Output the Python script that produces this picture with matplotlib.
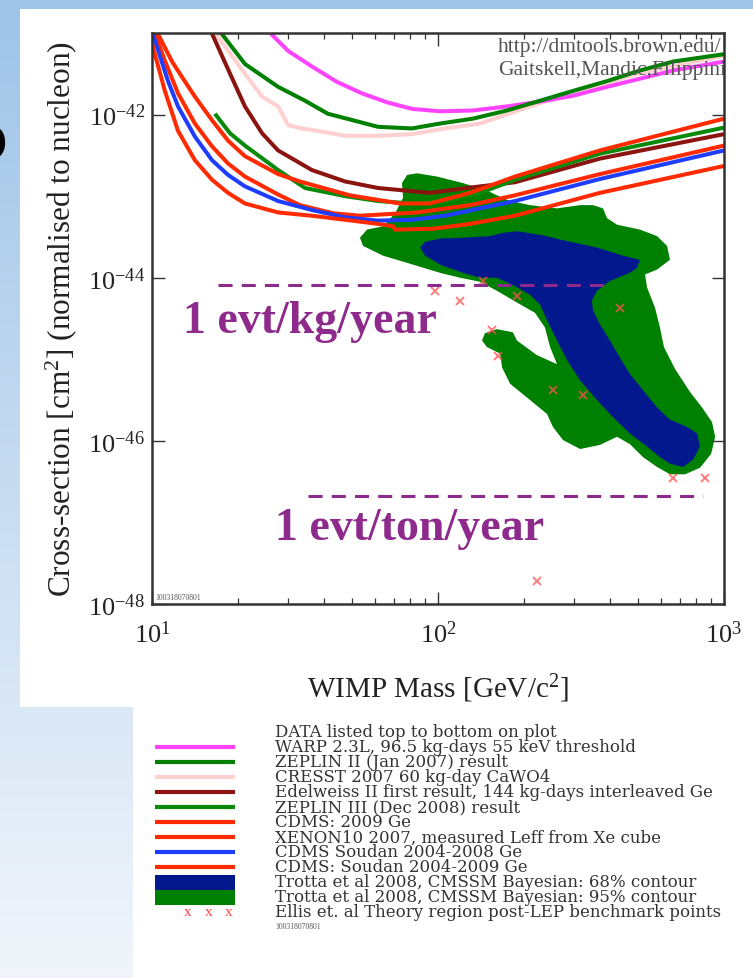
import numpy as np
import matplotlib
matplotlib.use('Agg')
import matplotlib.pyplot as plt
from matplotlib.patches import Rectangle
from matplotlib.colors import LinearSegmentedColormap
from matplotlib.ticker import LogLocator, NullLocator, NullFormatter

plt.rcParams['font.family'] = ['Liberation Serif', 'DejaVu Serif']
plt.rcParams['mathtext.fontset'] = 'custom'
plt.rcParams['mathtext.rm'] = 'Liberation Serif'
plt.rcParams['mathtext.it'] = 'Liberation Serif:italic'
plt.rcParams['mathtext.bf'] = 'Liberation Serif:bold'

# limit curves: log10(mass / GeV), log10(sigma / cm^2)
warp_lm = [1.405, 1.476, 1.559, 1.647, 1.734, 1.822, 1.909, 2.007, 2.122, 2.241, 2.357, 2.472, 2.591, 2.706, 2.822, 3.0]
warp_ls = [-40.97, -41.22, -41.41, -41.60, -41.74, -41.85, -41.93, -41.96, -41.95, -41.90, -41.84, -41.77, -41.66, -41.56, -41.46, -41.35]

zep2_lm = [1.235, 1.325, 1.441, 1.535, 1.615, 1.692, 1.790, 1.909, 2.007, 2.122, 2.241, 2.357, 2.472, 2.591, 2.706, 2.822, 3.0]
zep2_ls = [-40.97, -41.38, -41.66, -41.83, -41.99, -42.06, -42.15, -42.17, -42.11, -42.05, -41.95, -41.83, -41.71, -41.59, -41.46, -41.35, -41.26]

cresst_lm = [1.215, 1.325, 1.385, 1.441, 1.476, 1.524, 1.580, 1.675, 1.790, 1.909, 2.024, 2.147, 2.357, 2.706, 3.0]
cresst_ls = [-40.97, -41.50, -41.78, -41.90, -42.13, -42.17, -42.20, -42.26, -42.26, -42.24, -42.17, -42.11, -41.86, -41.49, -41.28]

edel_lm = [1.205, 1.273, 1.325, 1.385, 1.441, 1.559, 1.675, 1.790, 1.972, 2.101, 2.269, 2.566, 3.0]
edel_ls = [-40.97, -41.50, -41.90, -42.23, -42.44, -42.68, -42.82, -42.90, -42.96, -42.90, -42.83, -42.54, -42.24]

zep3_lm = [1.220, 1.273, 1.325, 1.441, 1.535, 1.675, 1.790, 1.909, 2.024, 2.147, 2.269, 2.566, 3.0]
zep3_ls = [-41.99, -42.23, -42.38, -42.68, -42.90, -43.00, -43.06, -43.09, -43.06, -42.96, -42.80, -42.48, -42.16]

cdms09_lm = [1.012, 1.070, 1.105, 1.150, 1.210, 1.266, 1.325, 1.441, 1.517, 1.692, 1.867, 1.972, 2.112, 2.269, 2.566, 3.0]
cdms09_ls = [-40.95, -41.35, -41.54, -41.78, -42.07, -42.32, -42.51, -42.73, -42.82, -42.99, -43.09, -43.09, -42.96, -42.76, -42.44, -42.05]

xenon_lm = [1.005, 1.045, 1.091, 1.150, 1.210, 1.266, 1.325, 1.441, 1.517, 1.633, 1.727, 1.927, 2.112, 2.269, 2.566, 3.0]
xenon_ls = [-40.95, -41.34, -41.74, -42.11, -42.39, -42.60, -42.76, -42.98, -43.11, -43.21, -43.24, -43.20, -43.11, -42.99, -42.73, -42.38]

soudan08_lm = [1.0, 1.056, 1.091, 1.150, 1.210, 1.266, 1.325, 1.441, 1.559, 1.675, 1.790, 1.909, 2.024, 2.269, 2.566, 3.0]
soudan08_ls = [-40.98, -41.59, -41.90, -42.27, -42.56, -42.74, -42.88, -43.06, -43.17, -43.26, -43.30, -43.29, -43.24, -43.06, -42.79, -42.44]

soudan09_lm = [1.0, 1.045, 1.091, 1.150, 1.210, 1.266, 1.325, 1.441, 1.559, 1.675, 1.790, 1.843, 1.850, 1.983, 2.112, 2.269, 2.566, 3.0]
soudan09_ls = [-41.13, -41.71, -42.20, -42.56, -42.80, -42.96, -43.09, -43.20, -43.24, -43.29, -43.34, -43.37, -43.41, -43.40, -43.34, -43.24, -42.96, -42.63]

# Trotta et al CMSSM regions (outline), same log units
c95_lm = [1.874, 1.892, 1.927, 1.997, 2.087, 2.171, 2.206, 2.252, 2.322, 2.416, 2.497, 2.542, 2.577, 2.591,
          2.626, 2.706, 2.766, 2.801, 2.811, 2.766, 2.724, 2.731, 2.759, 2.776, 2.790, 2.829, 2.881, 2.923,
          2.958, 2.969, 2.955, 2.916, 2.864, 2.811, 2.766, 2.717, 2.671, 2.626, 2.566, 2.497, 2.437, 2.402,
          2.381, 2.322, 2.252, 2.224, 2.217, 2.171, 2.154, 2.164, 2.206, 2.262, 2.276, 2.346, 2.416, 2.392,
          2.374, 2.339, 2.269, 2.206, 2.147, 2.077, 2.007, 1.913, 1.808, 1.738, 1.727, 1.752, 1.808, 1.850, 1.878]
c95_ls = [-42.84, -42.74, -42.72, -42.76, -42.84, -42.93, -42.99, -43.06, -43.11, -43.15, -43.11, -43.11, -43.15, -43.27,
          -43.35, -43.41, -43.49, -43.61, -43.78, -43.90, -43.96, -44.12, -44.37, -44.61, -44.85, -45.12, -45.40, -45.59,
          -45.77, -45.95, -46.16, -46.33, -46.41, -46.41, -46.32, -46.20, -46.04, -45.95, -46.05, -46.10, -45.99, -45.83,
          -45.67, -45.50, -45.30, -45.10, -44.93, -44.85, -44.77, -44.68, -44.63, -44.67, -44.77, -44.95, -45.06, -44.85,
          -44.61, -44.43, -44.29, -44.16, -44.05, -44.00, -43.94, -43.84, -43.73, -43.61, -43.51, -43.41, -43.37, -43.21, -43.02]

c68_lm = [1.937, 1.955, 2.007, 2.087, 2.182, 2.227, 2.276, 2.367, 2.437, 2.556, 2.647, 2.706, 2.696, 2.671,
          2.601, 2.556, 2.538, 2.542, 2.566, 2.601, 2.636, 2.671, 2.717, 2.766, 2.811, 2.871, 2.906, 2.916,
          2.892, 2.857, 2.811, 2.776, 2.731, 2.671, 2.612, 2.556, 2.497, 2.451, 2.416, 2.381, 2.357, 2.322,
          2.262, 2.206, 2.147, 2.087, 2.007, 1.955]
c68_ls = [-43.63, -43.56, -43.52, -43.51, -43.49, -43.45, -43.43, -43.48, -43.54, -43.63, -43.73, -43.78, -43.88, -43.94,
          -44.04, -44.16, -44.28, -44.40, -44.57, -44.77, -44.98, -45.18, -45.38, -45.59, -45.74, -45.83, -45.91, -46.07,
          -46.23, -46.32, -46.28, -46.20, -46.07, -45.91, -45.71, -45.50, -45.26, -45.01, -44.77, -44.52, -44.33, -44.21,
          -44.09, -44.00, -44.00, -43.94, -43.84, -43.73]

# Ellis et al benchmark points
bench_mass = [97.7, 119, 144, 189, 155, 162, 252, 321, 433, 664, 859, 222]
bench_sigma = [6.9e-45, 5.2e-45, 9.1e-45, 6.0e-45, 2.3e-45, 1.1e-45, 4.2e-46, 3.6e-46, 4.3e-45, 3.5e-47, 3.5e-47, 1.9e-48]

# event-rate guide lines
kg_mass = [17.0, 405.0]
kg_sigma = 8.2e-45
ton_mass = [35.1, 845.0]
ton_sigma = 2.1e-47

RED = '#ff2a00'
curves = [
    ('WARP 2.3L, 96.5 kg-days 55 keV threshold', '#ff44ff', warp_lm, warp_ls, 4),
    ('ZEPLIN II (Jan 2007) result', '#008000', zep2_lm, zep2_ls, 4),
    ('CRESST 2007 60 kg-day CaWO4', '#ffd0d0', cresst_lm, cresst_ls, 3),
    ('Edelweiss II first result, 144 kg-days interleaved Ge', '#8b1410', edel_lm, edel_ls, 4),
    ('ZEPLIN III (Dec 2008) result', '#0a8a0a', zep3_lm, zep3_ls, 4),
    ('CDMS: 2009 Ge', RED, cdms09_lm, cdms09_ls, 4),
    ('XENON10 2007, measured Leff from Xe cube', RED, xenon_lm, xenon_ls, 4),
    ('CDMS Soudan 2004-2008 Ge', '#1f3dff', soudan08_lm, soudan08_ls, 4),
    ('CDMS: Soudan 2004-2009 Ge', RED, soudan09_lm, soudan09_ls, 4),
]
BLUE68 = '#02188c'
GREEN95 = '#008000'
PURPLE = '#8e2a8c'
LEG_FONT = dict(fontsize=12, color='#333333', va='center', family='DejaVu Serif')

fig = plt.figure(figsize=(7.53, 9.79), dpi=100)

# slide background + white panels
bg = fig.add_axes([0, 0, 1, 1], zorder=-5)
cmap = LinearSegmentedColormap.from_list('slide', ['#9ec4e8', '#c8dcf1', '#f1f5fb'])
bg.imshow(np.linspace(0, 1, 256)[:, None], cmap=cmap, aspect='auto', extent=[0, 753, 979, 0])
bg.set_xlim(0, 753)
bg.set_ylim(979, 0)
bg.axis('off')
bg.add_patch(Rectangle((20, 10), 733, 698, color='white', lw=0))
bg.add_patch(Rectangle((133, 708), 620, 271, color='white', lw=0))
bg.text(-15, 142, 'o', fontsize=46, fontweight='bold', color='black',
        family='DejaVu Sans', ha='center', va='center')

# main plot
ax = fig.add_axes([152 / 753, 374 / 979, 572 / 753, 571 / 979])
ax.set_xscale('log')
ax.set_yscale('log')

ax.fill(10 ** np.array(c95_lm), 10 ** np.array(c95_ls), color=GREEN95, lw=0, zorder=1)
ax.fill(10 ** np.array(c68_lm), 10 ** np.array(c68_ls), color=BLUE68, lw=0, zorder=1.5)

for lab, col, lm, ls, z in curves:
    ax.plot(10 ** np.array(lm), 10 ** np.array(ls), color=col, lw=2.9, zorder=z,
            solid_capstyle='butt')

ax.plot(bench_mass, bench_sigma, 'x', color='#ff5050', ms=6, mew=1.4, alpha=0.75, zorder=5)

ax.plot(kg_mass, [kg_sigma, kg_sigma], color=PURPLE, lw=2.2, ls=(0, (4.6, 3.0)), zorder=6)
ax.plot(ton_mass, [ton_sigma, ton_sigma], color=PURPLE, lw=2.2, ls=(0, (4.6, 3.0)), zorder=6)
ax.text(0.054, 0.476, '1 evt/kg/year', transform=ax.transAxes, fontsize=33,
        fontweight='bold', color=PURPLE, ha='left', va='baseline', zorder=7)
ax.text(0.215, 0.114, '1 evt/ton/year', transform=ax.transAxes, fontsize=33,
        fontweight='bold', color=PURPLE, ha='left', va='baseline', zorder=7)

ax.text(0.605, 0.968, 'http://dmtools.brown.edu/', transform=ax.transAxes,
        fontsize=15.5, color='#555555', va='baseline', clip_on=True, zorder=8)
ax.text(0.605, 0.928, 'Gaitskell,Mandic,Filippini', transform=ax.transAxes,
        fontsize=15.5, color='#555555', va='baseline', clip_on=True, zorder=8)
ax.text(0.006, 0.006, '100318070801', transform=ax.transAxes, fontsize=5.5,
        color='#555555', va='bottom', zorder=8)

ax.set_xlim(10, 1000)
ax.set_ylim(1e-48, 1e-41)
ax.set_xticks([10, 100, 1000])
ax.set_xticklabels(['$10^{1}$', '$10^{2}$', '$10^{3}$'])
ax.xaxis.set_minor_locator(LogLocator(base=10, subs=range(2, 10)))
ax.xaxis.set_minor_formatter(NullFormatter())
ax.set_yticks([1e-48, 1e-46, 1e-44, 1e-42])
ax.set_yticklabels(['$10^{-48}$', '$10^{-46}$', '$10^{-44}$', '$10^{-42}$'])
ax.yaxis.set_minor_locator(NullLocator())
ax.tick_params(which='both', direction='in', top=True, right=True, color='#333333')
ax.tick_params(which='major', length=9, width=1.0)
ax.tick_params(which='minor', length=4.5, width=0.9)
ax.tick_params(axis='x', which='major', labelsize=19, pad=12, labelcolor='#222222')
ax.tick_params(axis='y', which='major', labelsize=19, pad=5, labelcolor='#222222')
for s in ax.spines.values():
    s.set_linewidth(1.8)
    s.set_color('#333333')
    s.set_zorder(9)

ax.set_xlabel('WIMP Mass [GeV/c$^2$]', fontsize=21, color='#222222')
ax.xaxis.set_label_coords(0.5, -0.118)
ax.set_ylabel('Cross-section [cm$^2$] (normalised to nucleon)', fontsize=22.5, color='#222222')
ax.yaxis.set_label_coords(-0.128, 0.5)

# legend panel below the plot
bg.text(275, 733, 'DATA listed top to bottom on plot', **LEG_FONT)
for i, (lab, col, lm, ls, z) in enumerate(curves):
    y = 748 + 15 * i
    bg.plot([155, 235], [y, y], color=col, lw=3.0, solid_capstyle='butt')
    bg.text(275, y, lab, **LEG_FONT)
y68 = 748 + 15 * 9
bg.add_patch(Rectangle((155, y68 - 7.5), 80, 15, color=BLUE68, lw=0))
bg.text(275, y68, 'Trotta et al 2008, CMSSM Bayesian: 68% contour', **LEG_FONT)
y95 = y68 + 15
bg.add_patch(Rectangle((155, y95 - 7.5), 80, 15, color=GREEN95, lw=0))
bg.text(275, y95, 'Trotta et al 2008, CMSSM Bayesian: 95% contour', **LEG_FONT)
yel = y95 + 15
for xm in (188, 209, 229):
    bg.text(xm, yel, 'x', fontsize=11, color='#ff4040', ha='center', va='center')
bg.text(275, yel, 'Ellis et. al Theory region post-LEP benchmark points', **LEG_FONT)
bg.text(275, yel + 14, '100318070801', fontsize=5.5, color='#555555', va='center')

fig.savefig('out.png', dpi=100)
